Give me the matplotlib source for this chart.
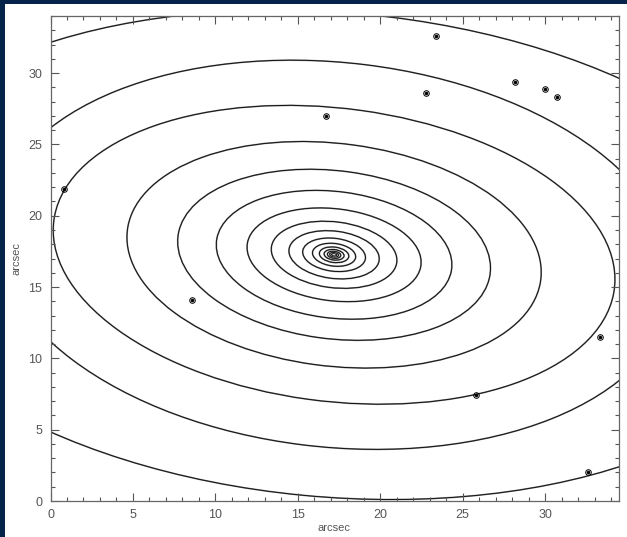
import matplotlib
matplotlib.use('Agg')
import matplotlib.pyplot as plt
from matplotlib.patches import Ellipse, Rectangle
from matplotlib.ticker import MultipleLocator

# isophote centre (arcsec)
x0, y0 = 17.2, 17.26

# isophotes: semi-major axis (arcsec), axis ratio b/a, position angle (deg)
sma = [0.15, 0.27, 0.41, 0.61, 0.90, 1.32, 1.92, 2.76, 3.84, 5.32,
       7.20, 9.56, 12.66, 17.17, 20.77, 28.9]
axratio = [0.60, 0.60, 0.60, 0.60, 0.60, 0.60, 0.60, 0.60, 0.60, 0.605,
           0.615, 0.615, 0.615, 0.597, 0.648, 0.587]
pa = [-9, -9, -9, -9, -9, -9, -9, -9, -9, -9,
      -9, -9, -9, -9, -8.1, -6.3]

# field stars / compact sources
star_x = [0.8, 16.7, 22.8, 23.4, 28.2, 30.0, 30.7, 8.6, 25.8, 32.6, 33.3]
star_y = [21.9, 27.0, 28.6, 32.6, 29.35, 28.9, 28.3, 14.1, 7.4, 2.0, 11.5]

navy = '#06234a'
fig = plt.figure(figsize=(6.27, 5.37), dpi=100, facecolor=navy)
fig.patches.append(Rectangle((5 / 627, 0), 622 / 627, 533 / 537,
                             transform=fig.transFigure, facecolor='white',
                             edgecolor='none', zorder=-10))

ax = fig.add_axes([50.5 / 627, 1 - 501 / 537, 568 / 627, 485 / 537])
ax.set_zorder(1)
ax.set_facecolor('white')

for a, q, ang in zip(sma, axratio, pa):
    # fitted model ellipse (grey) under the measured isophote (black)
    ax.add_patch(Ellipse((x0, y0), 2 * a, 2 * a * q, angle=ang,
                         fill=False, edgecolor='#909090', lw=1.2))
    ax.add_patch(Ellipse((x0, y0), 2 * a, 2 * a * q, angle=ang,
                         fill=False, edgecolor='#111111', lw=0.7))

ax.plot(star_x, star_y, 'o', ms=4, mfc='none', mec='black', mew=0.7)
ax.plot(star_x, star_y, 'o', ms=1.5, mfc='black', mec='black')

ax.set_xlim(0, 34.45)
ax.set_ylim(0, 34.0)
ax.xaxis.set_major_locator(MultipleLocator(5))
ax.xaxis.set_minor_locator(MultipleLocator(1))
ax.yaxis.set_major_locator(MultipleLocator(5))
ax.yaxis.set_minor_locator(MultipleLocator(1))
ax.tick_params(which='both', direction='in', top=True, right=True,
               colors='#555555', labelcolor='#555555', width=0.8)
ax.tick_params(which='major', length=6, labelsize=9, pad=6)
ax.tick_params(which='minor', length=3)
for s in ax.spines.values():
    s.set_color('#666666')
    s.set_linewidth(0.9)

font = 'Liberation Sans'
for lab in ax.get_xticklabels() + ax.get_yticklabels():
    lab.set_fontfamily(font)
ax.set_xlabel('arcsec', fontsize=8, color='#555555', family=font, labelpad=1)
ax.set_ylabel('arcsec', fontsize=8, color='#555555', family=font, labelpad=5)

fig.savefig('out.png', dpi=100, facecolor=navy)
